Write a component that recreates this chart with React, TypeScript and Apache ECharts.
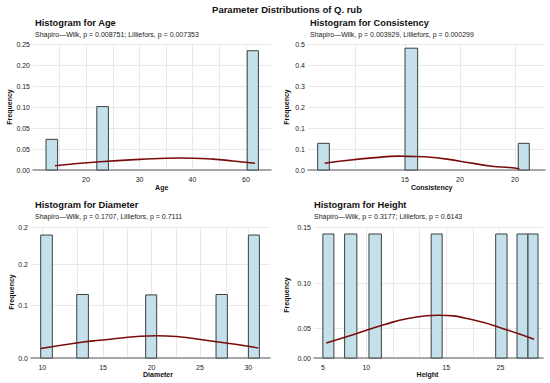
import React, { useEffect, useRef } from "react";
import * as echarts from "echarts";

// ---------- data ----------
const mainTitle = "Parameter Distributions of Q. rub";
const panelTitles = ["Histogram for Age", "Histogram for Consistency", "Histogram for Diameter", "Histogram for Height"];
const panelSubtitles = [
  "Shapiro\u2014Wilk, p = 0.008751; Lilliefors, p = 0.007353",
  "Shapiro\u2014Wilk, p = 0.003929, Lilliefors, p = 0.000299",
  "Shapiro\u2014Wilk, p = 0.1707, Lilliefors, p = 0.7111",
  "Shapiro\u2014Wilk, p = 0.3177; Lilliefors, p = 0.6143",
];
const axisNames = ["Age", "Consistency", "Diameter", "Height"];

// bins: [start, end], frequencies
const ageBins = [[10.0, 12.9], [22.7, 25.6], [60.3, 63.1]];
const ageFreq = [0.073, 0.151, 0.284];
const ageCurve = [[12.25, 0.0103], [23.5, 0.0198], [33.5, 0.0254], [43.5, 0.0286], [51.75, 0.026], [56.75, 0.0214], [62.25, 0.016]];
const ageXTicks = [20, 33.4, 46.6, 60];
const ageXTickLabels = ["20", "30", "40", "60"];
const ageXGrid = [13.3, 20, 26.7, 33.4, 40, 46.6, 53.3, 60];
const ageYTicks = [0, 0.05, 0.1, 0.15, 0.2, 0.25, 0.3];
const ageYTickLabels = ["0.00", "0.05", "0.05", "0.10", "0.15", "0.20", "0.25"];

const consBins = [[7.06, 8.12], [15.0, 16.15], [25.3, 26.3]];
const consFreq = [0.127, 0.58, 0.127];
const consCurve = [[7.7, 0.032], [9.25, 0.043], [12.3, 0.059], [14.4, 0.066], [15.3, 0.065], [16.8, 0.063], [20, 0.042], [22.9, 0.018], [24.5, 0.012], [25.4, 0.006]];
const consXTicks = [15, 20, 25];
const consXTickLabels = ["15", "20", "20"];
const consXGrid = [10.45, 15, 20, 25];
const consYTicks = [0, 0.1, 0.2, 0.3, 0.4, 0.5, 0.6];
const consYTickLabels = ["0.0", "0.1", "0.1", "0.2", "0.3", "0.4", "0.5"];

const diamBins = [[9.84, 10.97], [13.34, 14.47], [20.03, 21.1], [26.86, 27.96], [30.0, 31.07]];
const diamFreq = [0.2816, 0.1455, 0.1445, 0.1455, 0.2816];
const diamCurve = [[9.84, 0.0216], [13.98, 0.0367], [15.6, 0.0406], [19.49, 0.0498], [21.1, 0.051], [27.09, 0.0367], [30.97, 0.023]];
const diamXTicks = [10, 15.9, 20.6, 25.3, 30];
const diamXTickLabels = ["10", "15", "20", "25", "30"];
const diamXGrid = [10, 13.4, 15.9, 18.2, 20.6, 23.0, 25.3, 27.9, 30];
const diamYTicks = [0, 0.121, 0.215, 0.3];
const diamYTickLabels = ["0.0", "0.1", "0.2", "0.2"];

const heightBins = [[5.0, 6.24], [7.45, 8.83], [10.19, 11.59], [17.2, 18.44], [24.47, 25.75], [26.87, 28.11], [28.11, 29.24]];
const heightFreq = [0.142, 0.142, 0.142, 0.142, 0.142, 0.142, 0.142];
const heightCurve = [[5.38, 0.0172], [8.57, 0.0272], [11.96, 0.0383], [14.58, 0.0452], [17.97, 0.049], [22.1, 0.0433], [25.86, 0.0318], [28.79, 0.0215]];
const heightXTicks = [5, 9.9, 18.9, 25];
const heightXTickLabels = ["5", "10", "15", "25"];
const heightXGrid = [9.9, 12.9, 15.9, 18.9, 21.9, 24.9];
const heightYTicks = [0, 0.034, 0.0858, 0.15];
const heightYTickLabels = ["0.00", "0.05", "0.10", "0.15"];

// ---------- layout ----------
const panels = [
  { bins: ageBins, freq: ageFreq, curve: ageCurve, xt: ageXTicks, xl: ageXTickLabels, xg: ageXGrid, yt: ageYTicks, yl: ageYTickLabels,
    grid: { left: 33, top: 44, width: 238, height: 126 }, xMin: 6.75, xMax: 66.25, yMax: 0.3,
    title: [35, 23], sub: [35, 34.5], freqPos: [9, 107], namePos: [161.7, 187.5] },
  { bins: consBins, freq: consFreq, curve: consCurve, xt: consXTicks, xl: consXTickLabels, xg: consXGrid, yt: consYTicks, yl: consYTickLabels,
    grid: { left: 308, top: 44, width: 237, height: 126 }, xMin: 6.18, xMax: 27.73, yMax: 0.6,
    title: [310, 23], sub: [310, 34.5], freqPos: [286.7, 107], namePos: [431.7, 187.5] },
  { bins: diamBins, freq: diamFreq, curve: diamCurve, xt: diamXTicks, xl: diamXTickLabels, xg: diamXGrid, yt: diamYTicks, yl: diamYTickLabels,
    grid: { left: 31, top: 227, width: 239, height: 131 }, xMin: 8.9, xMax: 32.1, yMax: 0.3,
    title: [35, 205], sub: [35, 216.5], freqPos: [11, 292], namePos: [158, 374] },
  { bins: heightBins, freq: heightFreq, curve: heightCurve, xt: heightXTicks, xl: heightXTickLabels, xg: heightXGrid, yt: heightYTicks, yl: heightYTickLabels,
    grid: { left: 314, top: 227, width: 229, height: 131 }, xMin: 4.0, xMax: 29.8, yMax: 0.15,
    title: [314, 205], sub: [314, 216.5], freqPos: [286.7, 295], namePos: [427.5, 374] },
];

const FONT = "'Liberation Sans', Arial, sans-serif";

function labelFor(vals: number[], labels: string[]) {
  return (v: number) => {
    let best = -1, d = Infinity;
    vals.forEach((t, i) => { const dd = Math.abs(t - v); if (dd < d) { d = dd; best = i; } });
    return d < 1e-6 + Math.abs(v) * 1e-6 ? labels[best] : "";
  };
}

function buildOption() {
  const grid: any[] = [], xAxis: any[] = [], yAxis: any[] = [], series: any[] = [], graphic: any[] = [];
  graphic.push({ type: "text", x: 287, y: 9, style: { text: mainTitle, font: `bold 9.5px ${FONT}`, fill: "#111", textAlign: "center", textVerticalAlign: "middle" } });
  panels.forEach((p, i) => {
    grid.push({ ...p.grid, containLabel: false });
    xAxis.push({
      type: "value", gridIndex: i, min: p.xMin, max: p.xMax,
      axisLine: { show: true, lineStyle: { color: "#8f8f8f", width: 1.6 } },
      axisTick: { show: false, customValues: p.xg },
      axisLabel: { customValues: p.xt, formatter: labelFor(p.xt, p.xl), color: "#222", fontSize: 7, fontFamily: FONT, margin: 6 },
      splitLine: { show: true, lineStyle: { color: "#e3e3e3", width: 0.8 } },
    });
    yAxis.push({
      type: "value", gridIndex: i, min: 0, max: p.yMax,
      axisLine: { show: false }, axisTick: { show: false, customValues: p.yt },
      axisLabel: { customValues: p.yt, formatter: labelFor(p.yt, p.yl), color: "#222", fontSize: 7, fontFamily: FONT, margin: 3 },
      splitLine: { show: true, lineStyle: { color: "#e3e3e3", width: 0.8 } },
    });
    series.push({
      type: "custom", xAxisIndex: i, yAxisIndex: i,
      data: p.bins.map((b, k) => [b[0], b[1], p.freq[k]]),
      encode: { x: [0, 1], y: 2 },
      renderItem: (params: any, api: any) => {
        const a = api.coord([api.value(0), api.value(2)]);
        const b = api.coord([api.value(1), 0]);
        return { type: "rect", shape: { x: a[0], y: a[1], width: b[0] - a[0], height: b[1] - a[1] },
          style: { fill: "#c4e0ea", stroke: "#3b3f40", lineWidth: 1 } };
      },
    });
    series.push({
      type: "line", xAxisIndex: i, yAxisIndex: i, data: p.curve, smooth: true, showSymbol: false,
      lineStyle: { color: "#7a0c0c", width: 1.6 }, z: 5,
    });
    graphic.push({ type: "text", x: p.title[0], y: p.title[1], style: { text: panelTitles[i], font: `bold 9.3px ${FONT}`, fill: "#111", textVerticalAlign: "middle" } });
    graphic.push({ type: "text", x: p.sub[0], y: p.sub[1], style: { text: panelSubtitles[i], font: `7px ${FONT}`, fill: "#222", textVerticalAlign: "middle" } });
    graphic.push({ type: "text", x: p.freqPos[0], y: p.freqPos[1], rotation: Math.PI / 2, style: { text: "Frequency", font: `bold 7px ${FONT}`, fill: "#111", textAlign: "center", textVerticalAlign: "middle" } });
    graphic.push({ type: "text", x: p.namePos[0], y: p.namePos[1], style: { text: axisNames[i], font: `bold 7px ${FONT}`, fill: "#111", textAlign: "center", textVerticalAlign: "middle" } });
  });
  return { animation: false, backgroundColor: "#ffffff", grid, xAxis, yAxis, series, graphic };
}

export default function App() {
  const ref = useRef<HTMLDivElement>(null);
  useEffect(() => {
    document.body.style.margin = "0";
    const chart = echarts.init(ref.current!, undefined, { renderer: "svg" });
    chart.setOption(buildOption() as any);
    return () => chart.dispose();
  }, []);
  return <div ref={ref} style={{ width: 550, height: 383 }} />;
}
